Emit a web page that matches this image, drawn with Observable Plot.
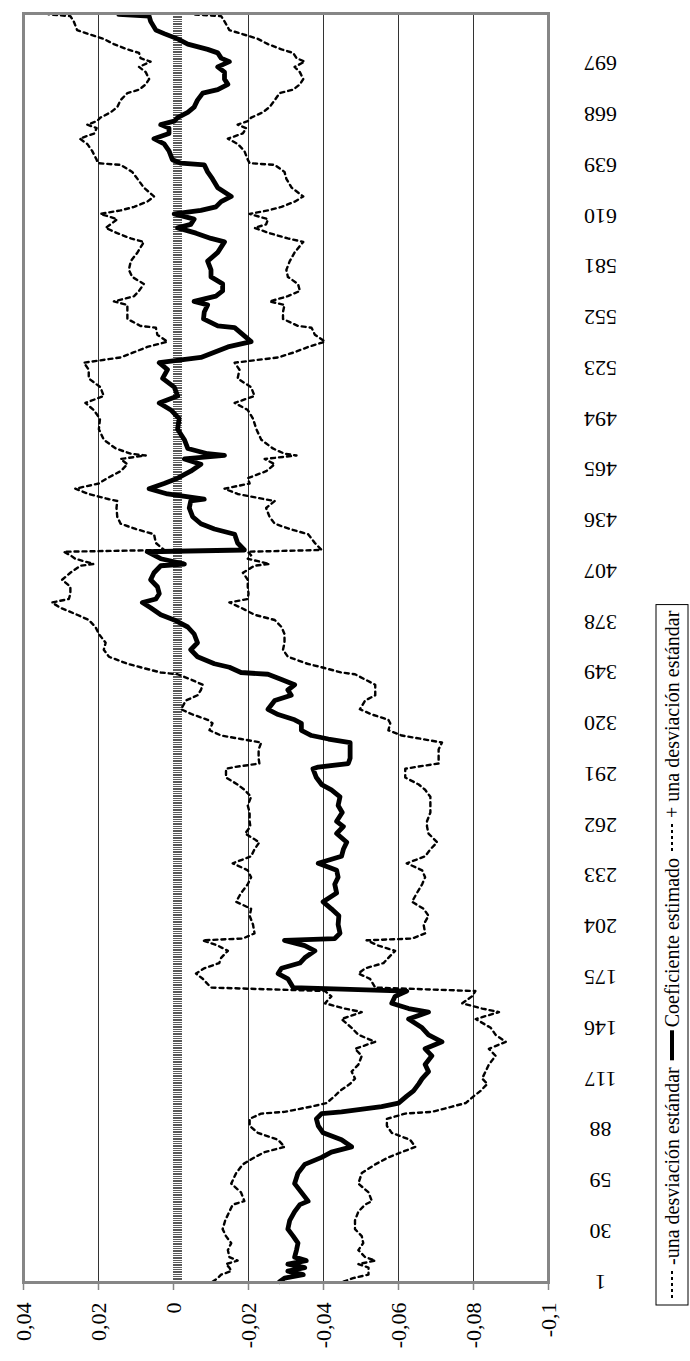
<!DOCTYPE html>
<html>
<head>
<meta charset="utf-8">
<script src="https://cdn.jsdelivr.net/npm/d3@7"></script>
<script src="https://cdn.jsdelivr.net/npm/@observablehq/plot@0.6"></script>
<style>
  body { margin: 0; background: #fff; }
  #chart { position: relative; width: 690px; height: 1361px; overflow: hidden; }
</style>
</head>
<body>
<div id="chart"></div>
<script>
const obs = [1,3,5,7,9,11,13,15,19,23,27,31,36,41,45,47,52,57,63,68,72,75,78,82,86,90,94,97,98,101,103,107,110,114,117,121,125,130,134,138,142,146,151,155,157,160,164,167,169,174,177,180,183,186,190,193,196,197,200,205,210,214,218,223,228,232,236,240,244,248,252,257,261,264,269,273,278,282,285,289,294,295,297,300,305,309,311,313,316,320,322,325,328,333,336,339,342,345,348,349,352,354,358,362,366,371,375,379,382,386,389,391,394,398,402,406,410,411,414,416,418,419,423,428,431,434,438,443,447,448,451,454,457,460,464,468,471,473,474,477,482,488,494,499,503,507,512,517,522,526,529,532,535,538,542,546,547,551,555,559,561,564,567,571,575,579,584,589,595,597,600,603,605,608,611,613,615,618,621,626,631,635,639,640,642,647,651,654,657,660,662,664,666,669,672,676,680,682,685,688,692,695,698,700,703,705,708,711,714,716,721,724,725];

const upper = [-0.0104,-0.0118,-0.0127,-0.0154,-0.0149,-0.0140,-0.0171,-0.0149,-0.0145,-0.0154,-0.0140,-0.0131,-0.0138,-0.0149,-0.0158,-0.0189,-0.0180,-0.0154,-0.0167,-0.0185,-0.0216,-0.0243,-0.0296,-0.0279,-0.0225,-0.0203,-0.0203,-0.0234,-0.0296,-0.0368,-0.0408,-0.0430,-0.0444,-0.0471,-0.0484,-0.0475,-0.0493,-0.0502,-0.0484,-0.0538,-0.0493,-0.0475,-0.0448,-0.0502,-0.0457,-0.0404,-0.0421,-0.0404,-0.0100,-0.0078,-0.0060,-0.0082,-0.0122,-0.0127,-0.0145,-0.0118,-0.0078,-0.0185,-0.0216,-0.0212,-0.0203,-0.0207,-0.0167,-0.0180,-0.0198,-0.0207,-0.0198,-0.0158,-0.0207,-0.0216,-0.0229,-0.0191,-0.0205,-0.0203,-0.0203,-0.0198,-0.0207,-0.0189,-0.0171,-0.0140,-0.0140,-0.0163,-0.0229,-0.0227,-0.0227,-0.0234,-0.0180,-0.0127,-0.0096,-0.0104,-0.0091,-0.0051,-0.0020,-0.0033,-0.0064,-0.0073,-0.0078,-0.0046,-0.0011,0.0034,0.0088,0.0123,0.0172,0.0186,0.0181,0.0199,0.0208,0.0226,0.0257,0.0302,0.0324,0.0279,0.0275,0.0275,0.0297,0.0275,0.0248,0.0213,0.0262,0.0275,0.0293,0.0025,0.0047,0.0052,0.0101,0.0141,0.0150,0.0152,0.0150,0.0172,0.0226,0.0262,0.0199,0.0177,0.0141,0.0123,0.0141,0.0074,0.0114,0.0154,0.0186,0.0199,0.0196,0.0213,0.0235,0.0186,0.0195,0.0226,0.0226,0.0239,0.0141,0.0105,0.0070,0.0016,0.0043,0.0047,0.0088,0.0123,0.0123,0.0123,0.0159,0.0105,0.0092,0.0079,0.0110,0.0119,0.0114,0.0096,0.0079,0.0114,0.0150,0.0181,0.0168,0.0150,0.0195,0.0141,0.0105,0.0070,0.0052,0.0079,0.0096,0.0110,0.0141,0.0202,0.0205,0.0217,0.0230,0.0250,0.0211,0.0205,0.0230,0.0204,0.0195,0.0168,0.0150,0.0141,0.0123,0.0092,0.0074,0.0065,0.0074,0.0092,0.0061,0.0088,0.0092,0.0123,0.0159,0.0186,0.0230,0.0257,0.0266,0.0275,0.0333];

const coef = [-0.0283,-0.0296,-0.0346,-0.0305,-0.0350,-0.0305,-0.0354,-0.0323,-0.0328,-0.0332,-0.0319,-0.0305,-0.0310,-0.0323,-0.0337,-0.0359,-0.0341,-0.0323,-0.0332,-0.0350,-0.0395,-0.0421,-0.0475,-0.0448,-0.0399,-0.0386,-0.0381,-0.0395,-0.0448,-0.0555,-0.0600,-0.0622,-0.0640,-0.0654,-0.0663,-0.0680,-0.0671,-0.0689,-0.0671,-0.0716,-0.0680,-0.0663,-0.0627,-0.0680,-0.0627,-0.0582,-0.0591,-0.0622,-0.0319,-0.0305,-0.0279,-0.0288,-0.0337,-0.0350,-0.0377,-0.0350,-0.0296,-0.0430,-0.0444,-0.0439,-0.0441,-0.0421,-0.0399,-0.0435,-0.0430,-0.0439,-0.0435,-0.0386,-0.0448,-0.0453,-0.0462,-0.0435,-0.0453,-0.0435,-0.0450,-0.0439,-0.0444,-0.0421,-0.0395,-0.0381,-0.0372,-0.0386,-0.0466,-0.0471,-0.0471,-0.0471,-0.0413,-0.0368,-0.0341,-0.0341,-0.0323,-0.0279,-0.0252,-0.0270,-0.0314,-0.0305,-0.0323,-0.0288,-0.0252,-0.0180,-0.0149,-0.0109,-0.0064,-0.0046,-0.0064,-0.0055,-0.0038,-0.0002,0.0034,0.0061,0.0083,0.0047,0.0038,0.0043,0.0061,0.0052,0.0034,-0.0029,0.0034,0.0052,0.0070,-0.0189,-0.0171,-0.0163,-0.0109,-0.0073,-0.0051,-0.0042,-0.0046,-0.0082,0.0016,0.0065,0.0025,-0.0011,-0.0046,-0.0073,-0.0029,-0.0136,-0.0091,-0.0038,-0.0029,-0.0011,-0.0015,0.0007,0.0038,-0.0011,-0.0002,0.0029,0.0016,0.0038,-0.0073,-0.0109,-0.0145,-0.0207,-0.0185,-0.0163,-0.0118,-0.0080,-0.0082,-0.0091,-0.0055,-0.0113,-0.0131,-0.0131,-0.0100,-0.0100,-0.0091,-0.0118,-0.0136,-0.0100,-0.0060,-0.0011,-0.0046,-0.0055,-0.0002,-0.0073,-0.0113,-0.0127,-0.0154,-0.0118,-0.0104,-0.0091,-0.0082,-0.0020,0.0003,0.0012,0.0025,0.0052,0.0012,0.0012,0.0034,-0.0002,-0.0011,-0.0038,-0.0055,-0.0064,-0.0078,-0.0118,-0.0145,-0.0136,-0.0136,-0.0118,-0.0149,-0.0127,-0.0118,-0.0091,-0.0038,-0.0011,0.0025,0.0047,0.0061,0.0065,0.0146];

const lower = [-0.0453,-0.0479,-0.0520,-0.0520,-0.0520,-0.0493,-0.0538,-0.0511,-0.0493,-0.0506,-0.0502,-0.0484,-0.0484,-0.0493,-0.0511,-0.0529,-0.0520,-0.0493,-0.0502,-0.0538,-0.0573,-0.0609,-0.0645,-0.0631,-0.0582,-0.0569,-0.0569,-0.0618,-0.0689,-0.0743,-0.0779,-0.0801,-0.0819,-0.0837,-0.0823,-0.0832,-0.0841,-0.0859,-0.0841,-0.0886,-0.0859,-0.0846,-0.0806,-0.0868,-0.0823,-0.0770,-0.0796,-0.0805,-0.0538,-0.0524,-0.0493,-0.0511,-0.0560,-0.0573,-0.0591,-0.0546,-0.0515,-0.0636,-0.0671,-0.0667,-0.0680,-0.0667,-0.0636,-0.0649,-0.0663,-0.0671,-0.0663,-0.0622,-0.0671,-0.0685,-0.0703,-0.0680,-0.0676,-0.0676,-0.0685,-0.0685,-0.0685,-0.0671,-0.0654,-0.0618,-0.0618,-0.0645,-0.0707,-0.0707,-0.0707,-0.0716,-0.0663,-0.0609,-0.0573,-0.0578,-0.0573,-0.0529,-0.0497,-0.0511,-0.0538,-0.0538,-0.0538,-0.0511,-0.0484,-0.0448,-0.0395,-0.0357,-0.0305,-0.0292,-0.0296,-0.0296,-0.0288,-0.0270,-0.0216,-0.0180,-0.0149,-0.0198,-0.0200,-0.0198,-0.0198,-0.0185,-0.0216,-0.0256,-0.0198,-0.0207,-0.0198,-0.0395,-0.0377,-0.0359,-0.0310,-0.0270,-0.0256,-0.0247,-0.0270,-0.0243,-0.0171,-0.0136,-0.0203,-0.0198,-0.0247,-0.0270,-0.0243,-0.0328,-0.0296,-0.0265,-0.0234,-0.0221,-0.0212,-0.0198,-0.0163,-0.0216,-0.0207,-0.0171,-0.0176,-0.0163,-0.0279,-0.0323,-0.0359,-0.0404,-0.0377,-0.0368,-0.0332,-0.0292,-0.0292,-0.0296,-0.0256,-0.0305,-0.0337,-0.0332,-0.0305,-0.0301,-0.0310,-0.0323,-0.0346,-0.0305,-0.0256,-0.0216,-0.0247,-0.0252,-0.0203,-0.0252,-0.0288,-0.0323,-0.0346,-0.0315,-0.0301,-0.0296,-0.0270,-0.0203,-0.0198,-0.0189,-0.0171,-0.0145,-0.0185,-0.0194,-0.0171,-0.0198,-0.0207,-0.0238,-0.0256,-0.0270,-0.0283,-0.0319,-0.0337,-0.0346,-0.0337,-0.0323,-0.0350,-0.0328,-0.0319,-0.0288,-0.0252,-0.0225,-0.0180,-0.0149,-0.0136,-0.0127,-0.0051];

const nObs = 725;
const valueTicks = [0.04, 0.02, 0, -0.02, -0.04, -0.06, -0.08, -0.1];
const categoryTicks = [1,30,59,88,117,146,175,204,233,262,291,320,349,378,407,436,465,494,523,552,581,610,639,668,697];
const legendLabels = ["-una desviación estándar", "Coeficiente estimado", "+ una desviación estándar"];

// ---- build ----
const rows = obs.map((t, i) => ({t, upper: upper[i], coef: coef[i], lower: lower[i]}));
const categories = d3.range(1, nObs + 1);
const gridValues = valueTicks.filter(v => v !== 0 && v !== valueTicks[0] && v !== valueTicks[valueTicks.length - 1]);
const fmt = v => String(v).replace(".", ",");
const FONT = "'Liberation Serif', 'Times New Roman', serif";

const dash = "4,4";
const plot = Plot.plot({
  width: 690,
  height: 1361,
  marginLeft: 23,
  marginRight: 142,
  marginTop: 13,
  marginBottom: 79,
  style: {fontFamily: FONT, fontSize: "22px", background: "#fff", color: "#000", overflow: "visible"},
  x: {domain: [valueTicks[0], valueTicks[valueTicks.length - 1]], axis: null},
  y: {domain: [0.5, nObs + 0.5], axis: null},
  marks: [
    Plot.ruleX(gridValues, {stroke: "#333", strokeWidth: 1}),
    Plot.ruleY(categories, {y: d => d, x1: 0, x2: -0.0025, stroke: "#5a5a5a", strokeWidth: 1, shapeRendering: "crispEdges"}),
    Plot.line(rows, {x: "upper", y: "t", stroke: "#000", strokeWidth: 2.4, strokeDasharray: dash}),
    Plot.line(rows, {x: "lower", y: "t", stroke: "#000", strokeWidth: 2.4, strokeDasharray: dash}),
    Plot.line(rows, {x: "coef", y: "t", stroke: "#000", strokeWidth: 4.8, strokeLinejoin: "round"}),
    Plot.frame({stroke: "#868686", strokeWidth: 3}),
    Plot.axisX({ticks: valueTicks, tickFormat: fmt, tickRotate: -90, tickSize: 8, tickPadding: 12, stroke: "#868686", strokeWidth: 1.5, fontSize: 22, fill: "#000"}),
    Plot.text(categoryTicks, {y: d => d, frameAnchor: "right", dx: 52, rotate: 180, textAnchor: "middle", fontSize: 22, fill: "#000"})
  ]
});
document.getElementById("chart").appendChild(plot);

// ---- legend (rotated, right side) ----
const svg = d3.select(plot);
const lg = svg.append("g").attr("font-family", FONT).attr("font-size", 20).attr("fill", "#000").attr("text-anchor", "start");
const cx = 672;
let y = 1298;
const sampleLen = 30;
const styles = [{w: 2, d: "3,3"}, {w: 4, d: null}, {w: 2, d: "3,3"}];
const top0 = y;
legendLabels.forEach((lab, i) => {
  const s = styles[i];
  const ln = lg.append("line").attr("x1", cx).attr("x2", cx).attr("y1", y).attr("y2", y - sampleLen)
    .attr("stroke", "#000").attr("stroke-width", s.w);
  if (s.d) ln.attr("stroke-dasharray", s.d);
  y -= sampleLen + 3;
  const t = lg.append("text").attr("transform", `translate(${cx},${y}) rotate(-90)`)
    .attr("text-anchor", "start").attr("dominant-baseline", "central").text(lab);
  const len = t.node().getComputedTextLength();
  y -= len + 7;
});
lg.insert("rect", ":first-child").attr("x", 656).attr("y", y + 1).attr("width", 32).attr("height", top0 + 7 - (y + 1))
  .attr("fill", "#fff").attr("stroke", "#000").attr("stroke-width", 1);
</script>
</body>
</html>
